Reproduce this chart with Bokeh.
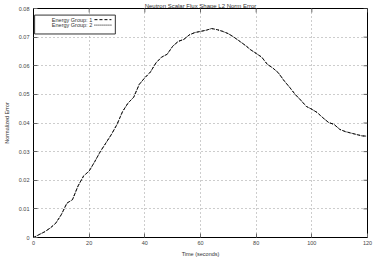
from bokeh.plotting import figure
from bokeh.models import Range1d, FixedTicker
from bokeh.embed import file_html
from bokeh.resources import INLINE
from bokeh.core.properties import value

title = "Neutron Scalar Flux Shape L2 Norm Error"
x_label = "Time (seconds)"
y_label = "Normalized Error"
series_names = ["Energy Group: 1", "Energy Group: 2"]

time = [0, 2, 4, 6, 8, 10, 12, 14, 16, 18, 20, 22, 24, 26, 28, 30, 32, 34, 36, 38,
        40, 42, 44, 46, 48, 50, 52, 54, 56, 58, 60, 62, 64, 66, 68, 70, 72, 74, 76, 78,
        80, 82, 84, 86, 88, 90, 92, 94, 96, 98, 100, 102, 104, 106, 108, 110, 112, 114,
        116, 118, 120]
group1 = [0.0000, 0.0010, 0.0020, 0.0033, 0.0050, 0.0080, 0.0120, 0.0132, 0.0180, 0.0215,
          0.0232, 0.0265, 0.0300, 0.0330, 0.0360, 0.0395, 0.0440, 0.0470, 0.0490, 0.0535,
          0.0558, 0.0578, 0.0610, 0.0630, 0.0640, 0.0668, 0.0685, 0.0692, 0.0708, 0.0716,
          0.0720, 0.0724, 0.0730, 0.0726, 0.0720, 0.0712, 0.0700, 0.0686, 0.0672, 0.0656,
          0.0643, 0.0630, 0.0605, 0.0592, 0.0575, 0.0548, 0.0525, 0.0500, 0.0480, 0.0458,
          0.0448, 0.0436, 0.0418, 0.0402, 0.0395, 0.0378, 0.0370, 0.0365, 0.0360, 0.0355,
          0.0354]
group2 = [0.0000, 0.0010, 0.0020, 0.0033, 0.0050, 0.0080, 0.0120, 0.0132, 0.0180, 0.0215,
          0.0232, 0.0265, 0.0300, 0.0330, 0.0360, 0.0395, 0.0440, 0.0470, 0.0490, 0.0535,
          0.0558, 0.0578, 0.0610, 0.0630, 0.0640, 0.0668, 0.0685, 0.0692, 0.0708, 0.0716,
          0.0720, 0.0724, 0.0730, 0.0726, 0.0720, 0.0712, 0.0700, 0.0686, 0.0672, 0.0656,
          0.0643, 0.0630, 0.0605, 0.0592, 0.0575, 0.0548, 0.0525, 0.0500, 0.0480, 0.0458,
          0.0448, 0.0436, 0.0418, 0.0402, 0.0395, 0.0378, 0.0370, 0.0365, 0.0360, 0.0355,
          0.0354]
x_ticks = [0, 20, 40, 60, 80, 100, 120]
y_ticks = [0, 0.01, 0.02, 0.03, 0.04, 0.05, 0.06, 0.07, 0.08]

FONT = "Liberation Sans"
FS = "5.5px"
X0, X1, Y0, Y1 = 0, 120, 0, 0.08

p = figure(width=374, height=259, output_backend="svg", toolbar_location=None,
           x_range=Range1d(X0, X1), y_range=Range1d(Y0, Y1),
           min_border_left=32, min_border_right=7, min_border_top=6, min_border_bottom=22)
p.outline_line_color = "black"
p.outline_line_width = 1
p.background_fill_color = "white"
p.border_fill_color = "white"

p.title.text = title
p.title.align = "center"
p.title.text_font = FONT
p.title.text_font_size = "6px"
p.title.text_font_style = "normal"
p.title.text_color = "#333333"
p.title.standoff = 0
p.title.offset = 0
p.title.text_line_height = 0.9

for ax in (p.xaxis[0], p.yaxis[0]):
    ax.major_label_text_font = FONT
    ax.major_label_text_font_size = FS
    ax.major_label_text_color = "#444444"
    ax.axis_label_text_font = FONT
    ax.axis_label_text_font_size = FS
    ax.axis_label_text_font_style = "normal"
    ax.axis_label_text_color = "#333333"
    ax.major_tick_in = 4
    ax.major_tick_out = 0
    ax.minor_tick_line_color = None
    ax.axis_line_color = "black"
    ax.major_tick_line_color = "#666666"

p.xaxis[0].ticker = FixedTicker(ticks=x_ticks)
p.yaxis[0].ticker = FixedTicker(ticks=y_ticks)
p.xaxis[0].axis_label = x_label
p.yaxis[0].axis_label = y_label
p.xaxis[0].major_label_standoff = 3
p.xaxis[0].axis_label_standoff = 3
p.yaxis[0].major_label_standoff = 4
p.yaxis[0].axis_label_standoff = 6
p.yaxis[0].major_label_overrides = {0: "0"}

p.xgrid.ticker = FixedTicker(ticks=x_ticks)
p.ygrid.ticker = FixedTicker(ticks=y_ticks)
p.grid.grid_line_color = "#9a9a9a"
p.grid.grid_line_dash = "1 3"
p.grid.grid_line_width = 1

# inward tick marks on the top and right edges of the frame
tx = 4 * (X1 - X0) / 335.0
ty = 4 * (Y1 - Y0) / 231.0
p.segment(x0=x_ticks, y0=[Y1] * len(x_ticks), x1=x_ticks, y1=[Y1 - ty] * len(x_ticks),
          line_color="#666666", line_width=1)
p.segment(x0=[X1] * len(y_ticks), y0=y_ticks, x1=[X1 - tx] * len(y_ticks), y1=y_ticks,
          line_color="#666666", line_width=1)

p.line(time, group1, line_color="black", line_width=1, line_dash="3 2")
p.line(time, group2, line_color="#222222", line_width=1, line_dash="1 1")

# legend (label left of sample, as in the reference)
p.quad(left=[0.4], right=[29.4], bottom=[0.0711], top=[0.0777],
       fill_color="white", line_color="#333333", line_width=1)
leg_y = [0.0761, 0.0742]
p.text(x=[21.1, 21.1], y=leg_y, text=series_names, text_align="right",
       text_baseline="middle", text_font=value(FONT), text_font_size=FS,
       text_color="#333333")
p.segment(x0=[21.9], y0=[leg_y[0]], x1=[28.0], y1=[leg_y[0]],
          line_color="black", line_dash="3 2", line_width=1)
p.segment(x0=[21.9], y0=[leg_y[1]], x1=[28.0], y1=[leg_y[1]],
          line_color="black", line_dash="1 1", line_width=1)

open("out.html", "w").write(file_html(p, INLINE))
